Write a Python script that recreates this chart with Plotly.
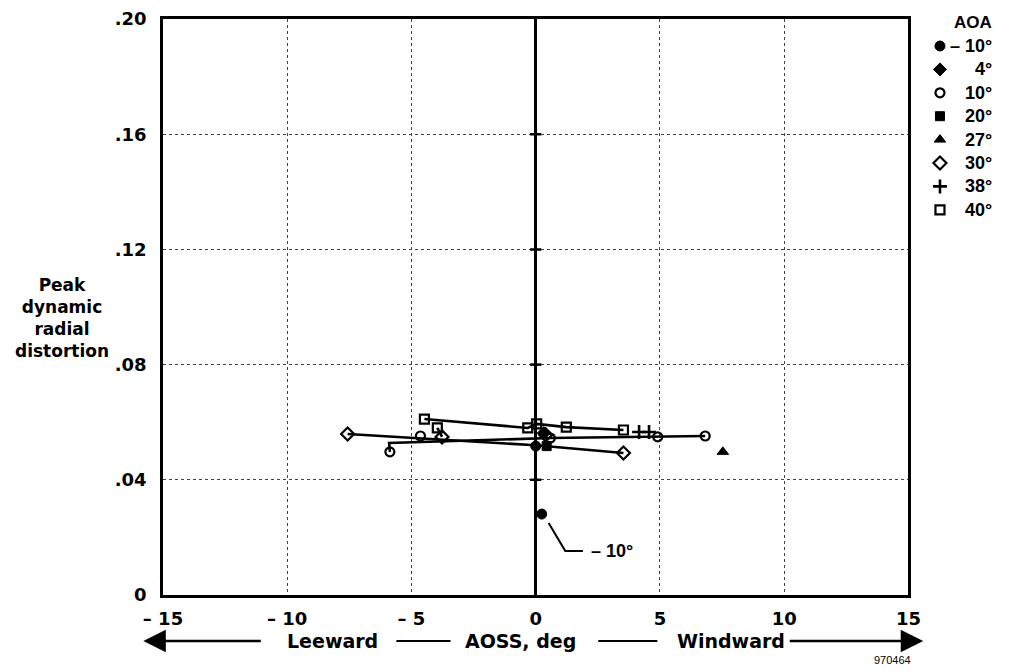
import plotly.graph_objects as go

# Peak dynamic radial distortion vs. angle of sideslip (AOSS, deg), by angle of attack
aoss_m10 = [0.24, 0.0]
dist_m10 = [0.0281, 0.0517]
aoss_4 = [0.32]
dist_4 = [0.0562]
aoss_10 = [-5.87, -4.64, 0.59, 4.91, 6.82]
dist_10 = [0.0497, 0.0552, 0.0545, 0.0549, 0.0552]
aoss_20 = [0.44]
dist_20 = [0.0517]
aoss_27 = [7.53]
dist_27 = [0.0497]
aoss_30 = [-7.57, -3.77, 0.40, 3.53]
dist_30 = [0.0559, 0.0549, 0.0556, 0.0493]
aoss_38 = [4.16, 4.56]
dist_38 = [0.0566, 0.0566]
aoss_40 = [-4.48, -3.96, -0.32, 0.04, 1.23, 3.53]
dist_40 = [0.0611, 0.0580, 0.0580, 0.0594, 0.0583, 0.0573]

# Faired curves drawn through the test points
fair_10_x = [-5.87, -5.90, 0.59, 4.91, 6.82]
fair_10_y = [0.0497, 0.0528, 0.0545, 0.0549, 0.0552]
fair_30_x = [-7.57, 0.0, 3.53]
fair_30_y = [0.0559, 0.0520, 0.0493]
fair_40_x = [-4.48, -0.32, 0.04, 1.23, 3.53]
fair_40_y = [0.0611, 0.0580, 0.0594, 0.0583, 0.0573]
link_x = [-3.96, -3.77]
link_y = [0.0580, 0.0549]

x_ticks = [-15, -10, -5, 0, 5, 10, 15]
x_ticktext = ["– 15", "– 10", "– 5", "0", "5", "10", "15"]
y_ticks = [0, 0.04, 0.08, 0.12, 0.16, 0.20]
y_ticktext = ["0", ".04", ".08", ".12", ".16", ".20"]

aoa_labels = ["– 10°", "4°", "10°", "20°", "27°", "30°", "38°", "40°"]

FONT = "Liberation Sans, Arial, Helvetica, sans-serif"
WIDE = "DejaVu Sans, Liberation Sans, sans-serif"
W, H = 1020, 671
L, R, T, B = 163, 5, 19, 76
PW, PH = W - L - R, H - T - B
X_RIGHT = 920  # right edge of the main plotting frame


def px(x):
    return (x - L) / PW


def py(y):
    return (H - B - y) / PH


styles = {
    "– 10°": dict(symbol="circle", size=10, color="black", line=dict(color="black", width=1)),
    "4°": dict(symbol="diamond", size=10, color="black", line=dict(color="black", width=1)),
    "10°": dict(symbol="circle-open", size=9, color="black", line=dict(color="black", width=2.2)),
    "20°": dict(symbol="square", size=9, color="black", line=dict(color="black", width=1)),
    "27°": dict(symbol="triangle-up", size=10, color="black", line=dict(color="black", width=1)),
    "30°": dict(symbol="diamond-open", size=10, color="black", line=dict(color="black", width=2.2)),
    "38°": dict(symbol="cross-thin-open", size=10, color="black", line=dict(color="black", width=2.6)),
    "40°": dict(symbol="square-open", size=9, color="black", line=dict(color="black", width=2.2)),
}

series = {
    "– 10°": (aoss_m10, dist_m10),
    "4°": (aoss_4, dist_4),
    "10°": (aoss_10, dist_10),
    "20°": (aoss_20, dist_20),
    "27°": (aoss_27, dist_27),
    "30°": (aoss_30, dist_30),
    "38°": (aoss_38, dist_38),
    "40°": (aoss_40, dist_40),
}

fig = go.Figure()

# faired lines
for fx, fy in [(fair_10_x, fair_10_y), (fair_30_x, fair_30_y), (fair_40_x, fair_40_y), (link_x, link_y)]:
    fig.add_trace(go.Scatter(x=fx, y=fy, mode="lines", line=dict(color="black", width=2.6),
                             showlegend=False, hoverinfo="skip"))

# tick dashes on the zero line
fig.add_trace(go.Scatter(x=[0] * (len(y_ticks) - 2), y=y_ticks[1:-1], mode="markers",
                         marker=dict(symbol="line-ew-open", size=8, color="black",
                                     line=dict(color="black", width=2.5)),
                         showlegend=False, hoverinfo="skip"))

# test points
for name, (xs, ys) in series.items():
    fig.add_trace(go.Scatter(x=xs, y=ys, mode="markers", name=name, marker=styles[name],
                             showlegend=False))

# leader and label for the -10 deg point
lx0, ly0 = aoss_m10[0] + 0.28, dist_m10[0] - 0.0031
lx1, ly1 = lx0 + 0.67, ly0 - 0.0097
lx2 = lx1 + 0.71
fig.add_trace(go.Scatter(x=[lx0, lx1, lx2], y=[ly0, ly1, ly1], mode="lines",
                         line=dict(color="black", width=2), showlegend=False, hoverinfo="skip"))

annotations = [
    dict(x=lx2 + 0.25, y=ly1, xref="x", yref="y", text="<b>– 10°</b>", showarrow=False,
         xanchor="left", yanchor="middle", font=dict(family=FONT, size=18, color="black")),
]

# key (drawn on a hidden pixel-scaled axis pair to the right of the frame)
key_x_marker = 952
key_x_text = 1007
key_title_y = 22
key_row0, key_step = 46, 23.4
key_rows = [key_row0 + key_step * i for i in range(len(aoa_labels))]
for name, yy in zip(aoa_labels, key_rows):
    fig.add_trace(go.Scatter(x=[key_x_marker], y=[yy], xaxis="x2", yaxis="y2", mode="markers",
                             marker=styles[name], showlegend=False, hoverinfo="skip"))
    annotations.append(dict(x=key_x_text, y=yy, xref="x2", yref="y2", text=f"<b>{name}</b>",
                            showarrow=False, xanchor="right", yanchor="middle",
                            font=dict(family=FONT, size=18, color="black")))
annotations.append(dict(x=key_x_text, y=key_title_y, xref="x2", yref="y2", text="<b>AOA</b>",
                        showarrow=False, xanchor="right", yanchor="middle",
                        font=dict(family=FONT, size=17, color="black")))

# y-axis title
annotations.append(dict(x=px(60), y=py(318), xref="paper", yref="paper",
                        text="<b>Peak<br>dynamic<br>radial<br>distortion</b>", showarrow=False,
                        xanchor="center", yanchor="middle", align="center",
                        font=dict(family=WIDE, size=17, color="black")))

# x-axis caption with direction arrows
cap_y = 641
for txt, cx in [("Leeward", 335), ("AOSS, deg", 526), ("Windward", 740)]:
    annotations.append(dict(x=px(cx), y=py(cap_y), xref="paper", yref="paper",
                            text=f"<b>{txt}</b>", showarrow=False, xanchor="center",
                            yanchor="middle", font=dict(family=WIDE, size=19, color="black")))
annotations.append(dict(x=px(143), y=py(cap_y), xref="paper", yref="paper", text="",
                        showarrow=True, arrowhead=2, arrowsize=1.8, arrowwidth=2.5,
                        arrowcolor="black", ax=262 - 143, ay=0))
annotations.append(dict(x=px(935), y=py(cap_y), xref="paper", yref="paper", text="",
                        showarrow=True, arrowhead=2, arrowsize=1.8, arrowwidth=2.5,
                        arrowcolor="black", ax=800 - 935, ay=0))
annotations.append(dict(x=px(925), y=py(660), xref="paper", yref="paper", text="970464",
                        showarrow=False, xanchor="right", yanchor="middle",
                        font=dict(family=FONT, size=11, color="black")))

shapes = [
    dict(type="line", xref="paper", yref="paper", x0=px(400), x1=px(455), y0=py(cap_y), y1=py(cap_y),
         line=dict(color="black", width=2)),
    dict(type="line", xref="paper", yref="paper", x0=px(605), x1=px(665), y0=py(cap_y), y1=py(cap_y),
         line=dict(color="black", width=2)),
]

dom_right = (X_RIGHT - L) / PW

fig.update_layout(
    width=W, height=H, autosize=False,
    margin=dict(l=L, r=R, t=T, b=B, pad=0),
    paper_bgcolor="white", plot_bgcolor="white",
    font=dict(family=FONT, color="black"),
    showlegend=False,
    annotations=annotations,
    shapes=shapes,
    xaxis=dict(
        domain=[0, dom_right], range=[-15, 15], tickvals=x_ticks,
        ticktext=[f"<b>{t}</b>" for t in x_ticktext], tickfont=dict(family=WIDE, size=18),
        showgrid=True, gridcolor="#444", gridwidth=1, griddash="dot",
        zeroline=True, zerolinecolor="black", zerolinewidth=3,
        showline=True, linecolor="black", linewidth=2.5, mirror=True,
        ticks="", ticklabelstandoff=6,
    ),
    yaxis=dict(
        range=[0, 0.20], tickvals=y_ticks, ticktext=[f"<b>{t}</b>" for t in y_ticktext],
        tickfont=dict(family=WIDE, size=18),
        showgrid=True, gridcolor="#444", gridwidth=1, griddash="dot",
        zeroline=False,
        showline=True, linecolor="black", linewidth=2.5, mirror=True,
        ticks="", ticklabelstandoff=10,
    ),
    xaxis2=dict(domain=[px(921), 1], range=[921, 1015], anchor="y2", visible=False),
    yaxis2=dict(domain=[0, 1], range=[H - B, T], anchor="x2", visible=False),
)

# keep the page exactly the size of the figure (no scrollbars)
page_css = (
    "document.documentElement.style.margin='0';document.documentElement.style.overflow='hidden';"
    "document.body.style.margin='0';document.body.style.overflow='hidden';"
)
fig.write_html("out.html", config={"responsive": False}, post_script=page_css)
